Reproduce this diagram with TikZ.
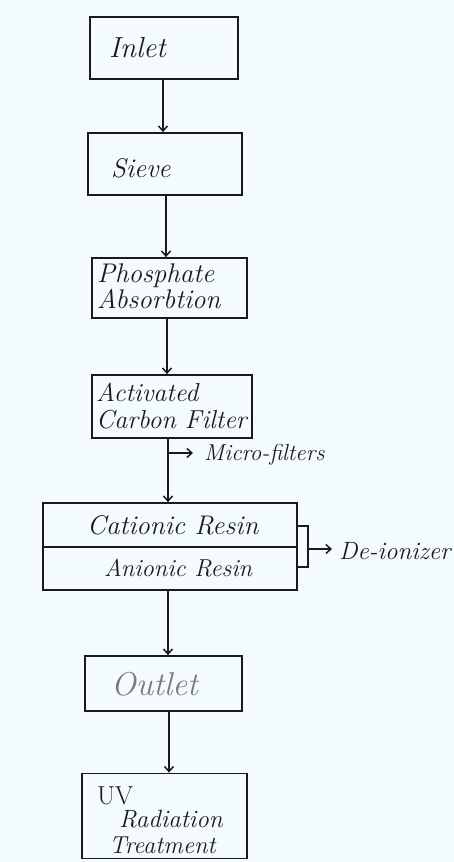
\documentclass[tikz,border=0pt]{standalone}
\usepackage{fontspec}
\setmainfont{Latin Modern Roman}
\usetikzlibrary{arrows.meta}
\definecolor{paper}{HTML}{F3FBFD}
\definecolor{ink}{HTML}{1A1A1A}
\definecolor{faded}{HTML}{7A7A7A}
\begin{document}
\begin{tikzpicture}[x=1pt,y=-1pt,
  box/.style={draw=ink,line width=1.8pt,rectangle,inner sep=0pt},
  lbl/.style={anchor=west,inner sep=0pt,text=ink,font=\itshape\fontsize{25}{26}\selectfont},
  two/.style={lbl,align=left,font=\itshape\fontsize{27}{26}\selectfont},
  arr/.style={draw=ink,line width=1.5pt,-{Straight Barb[length=5pt,width=9pt]}},
  ln/.style={draw=ink,line width=1.5pt}]
\fill[paper] (0,0) rectangle (454,862);
\useasboundingbox (0,0) rectangle (454,862);
% boxes
\node[box,minimum width=148pt,minimum height=62pt] (inlet) at (164,48) {};
\node[box,minimum width=154pt,minimum height=62pt] (sieve) at (165,164) {};
\node[box,minimum width=155pt,minimum height=60pt] (phos) at (169.5,288) {};
\node[box,minimum width=160pt,minimum height=63pt] (carbon) at (172,406.5) {};
\node[box,minimum width=254pt,minimum height=87pt] (resin) at (170,546.5) {};
\node[box,minimum width=157pt,minimum height=55pt] (outlet) at (163.5,683.5) {};
\node[box,minimum width=165pt,minimum height=85pt] (uv) at (164.5,816) {};
\draw[ln] (resin.west |- 0,547) -- (resin.east |- 0,547);
% texts
\node[lbl,font=\itshape\fontsize{29}{30}\selectfont] (tinlet) at (109,48) {Inlet};
\node[lbl,font=\itshape\fontsize{27}{28}\selectfont] (tsieve) at (111,168) {Sieve};
\node[two] (tphos) at (97,286) {Phosphate\\Absorbtion};
\node[two,font=\itshape\fontsize{26}{27}\selectfont] (tcarbon) at (96,406) {Activated\\Carbon\ Filter};
\node[lbl,font=\itshape\fontsize{27}{28}\selectfont] (tcat) at (87,525) {Cationic Resin};
\node[lbl,font=\itshape\fontsize{24.5}{28}\selectfont] (tani) at (104,568) {Anionic Resin};
\node[lbl,text=faded,font=\itshape\fontsize{33}{34}\selectfont] (tout) at (111,684) {Outlet};
\node[lbl,font=\fontsize{26}{28}\selectfont] (tuv) at (97,796) {UV};
\node[lbl,font=\itshape\fontsize{25}{28}\selectfont] (trad) at (119,819) {Radiation};
\node[lbl,font=\itshape\fontsize{24.5}{28}\selectfont] (ttre) at (109,845) {Treatment};
\node[lbl,font=\itshape\fontsize{23}{24}\selectfont] (tmicro) at (204,455) {Micro-filters};
\node[lbl,font=\itshape\fontsize{25}{26}\selectfont] (tdei) at (339,551) {De-ionizer};
% main arrows
\coordinate (x1) at (163,0);
\coordinate (x2) at (166,0);
\coordinate (x3) at (167,0);
\coordinate (x4) at (168,0);
\coordinate (x5) at (168,0);
\coordinate (x6) at (169,0);
\draw[arr] (x1 |- inlet.south) -- (x1 |- sieve.north);
\draw[arr] (x2 |- sieve.south) -- (x2 |- phos.north);
\draw[arr] (x3 |- phos.south) -- (x3 |- carbon.north);
\draw[arr] (x4 |- carbon.south) -- (x4 |- resin.north);
\draw[arr] (x5 |- resin.south) -- (x5 |- outlet.north);
\draw[arr] (x6 |- outlet.south) -- (x6 |- uv.north);
% micro-filters branch
\coordinate (mb) at (168,453);
\coordinate (me) at (193,453);
\draw[arr] (mb) -- (me);
% de-ionizer bracket
\coordinate (bt) at (297,526);
\coordinate (bb) at (297,567);
\coordinate (bm) at (308,549);
\coordinate (be) at (332,549);
\draw[ln] (bt) -- (308,526) -- (308,567) -- (bb);
\draw[arr] (bm) -- (be);
\end{tikzpicture}
\end{document}
